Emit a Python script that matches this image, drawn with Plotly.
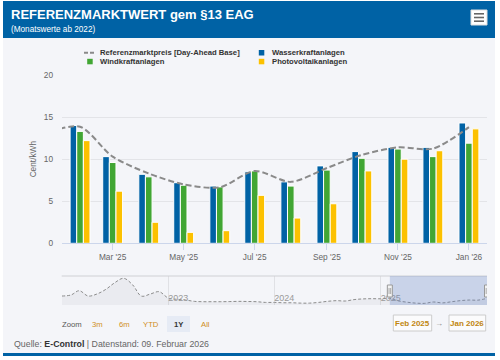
import plotly.graph_objects as go

# ---------------- data ----------------
bar_months = ["2025-02-01", "2025-03-01", "2025-04-01", "2025-05-01", "2025-06-01", "2025-07-01",
              "2025-08-01", "2025-09-01", "2025-10-01", "2025-11-01", "2025-12-01", "2026-01-01"]
wasserkraft = [14.0, 10.3, 8.2, 7.2, 6.8, 8.5, 7.3, 9.2, 10.9, 11.4, 11.4, 14.3]
windkraft = [13.3, 9.6, 7.9, 6.9, 6.7, 8.6, 6.8, 8.7, 10.1, 11.2, 10.3, 11.9]
photovoltaik = [12.2, 6.2, 2.5, 1.3, 1.5, 5.7, 3.0, 4.7, 8.6, 10.0, 11.0, 13.6]

ref_months = [f"{y}-{m:02d}-01" for y in (2022, 2023, 2024, 2025) for m in range(1, 13)] + ["2026-01-01"]
ref_price = [17.1, 18.6, 24.7, 17.1, 20.0, 26.7, 36.0, 42.4, 33.0, 17.0, 20.0, 23.3,
             14.3, 12.4, 11.5, 9.5, 9.0, 9.0, 9.0, 9.2, 9.5, 9.3, 9.0, 8.0,
             8.0, 7.5, 7.5, 7.0, 7.0, 8.0, 9.5, 10.5, 10.0, 12.0, 13.0, 13.3,
             13.2, 13.85, 10.3, 8.3, 7.0, 6.65, 8.6, 7.3, 8.95, 10.5, 11.4, 11.25,
             13.8]

x_tickvals = ["2025-03-01", "2025-05-01", "2025-07-01", "2025-09-01", "2025-11-01", "2026-01-01"]
x_ticktext = ["Mar '25", "May '25", "Jul '25", "Sep '25", "Nov '25", "Jan '26"]
y_tickvals = [0, 5, 10, 15, 20]
nav_tickvals = ["2023-01-01", "2024-01-01", "2025-01-01"]
nav_ticktext = ["2023", "2024", "2025"]

series_names = ["Referenzmarktpreis [Day-Ahead Base]", "Wasserkraftanlagen", "Windkraftanlagen", "Photovoltaikanlagen"]
range_buttons = ["3m", "6m", "YTD", "1Y", "All"]

# ---------------- style ----------------
FONT = "Liberation Sans, Arial, Helvetica, sans-serif"
BLUE = "#0062a5"
GREEN = "#41a634"
YELLOW = "#fcc100"
LINEGRAY = "#8a8a8a"
BG = "#f4f5f9"
ORANGE = "#d08e1c"

W, H = 500, 360
ML, MR, MT, MB = 62, 13, 75, 55
PW, PH = W - ML - MR, H - MT - MB


def px(x):
    return (x - ML) / PW


def py(y):
    return (H - MB - y) / PH


def rect(x0, y0, x1, y1, fill, line=None, lw=0, layer="above"):
    return dict(type="rect", xref="paper", yref="paper", x0=px(x0), x1=px(x1), y0=py(y0), y1=py(y1),
                fillcolor=fill, line=dict(color=line or fill, width=lw), layer=layer)


def hline(x0, x1, y, color, width=1, dash="solid"):
    return dict(type="line", xref="paper", yref="paper", x0=px(x0), x1=px(x1), y0=py(y), y1=py(y),
                line=dict(color=color, width=width, dash=dash))


def ann(text, x, y, size, color, xanchor="left", yanchor="middle"):
    dx = -2 if xanchor == "left" else 0
    return dict(text=text, x=px(x + dx), y=py(y), xref="paper", yref="paper", showarrow=False,
                xanchor=xanchor, yanchor=yanchor, font=dict(family=FONT, size=size, color=color))


fig = go.Figure()

# main chart traces
fig.add_trace(go.Bar(x=bar_months, y=wasserkraft, name=series_names[1], marker=dict(color=BLUE, line=dict(color="white", width=1)),
                     xaxis="x", yaxis="y", showlegend=False))
fig.add_trace(go.Bar(x=bar_months, y=windkraft, name=series_names[2], marker=dict(color=GREEN, line=dict(color="white", width=1)),
                     xaxis="x", yaxis="y", showlegend=False))
fig.add_trace(go.Bar(x=bar_months, y=photovoltaik, name=series_names[3], marker=dict(color=YELLOW, line=dict(color="white", width=1)),
                     xaxis="x", yaxis="y", showlegend=False))
fig.add_trace(go.Scatter(x=ref_months, y=ref_price, name=series_names[0], mode="lines",
                         line=dict(color=LINEGRAY, width=2, dash="6px,3px", shape="spline", smoothing=0.8),
                         xaxis="x", yaxis="y", showlegend=False))

# navigator
fig.add_trace(go.Scatter(x=ref_months, y=ref_price, mode="lines", fill="tozeroy",
                         fillcolor="rgba(80,90,110,0.06)",
                         line=dict(color="#8c8c8c", width=1, dash="3px,2px", shape="spline"),
                         xaxis="x2", yaxis="y2", showlegend=False, hoverinfo="skip"))

main_bottom = 243.3
fig.update_layout(
    width=W, height=H,
    margin=dict(l=ML, r=MR, t=MT, b=MB, autoexpand=False),
    paper_bgcolor="white", plot_bgcolor="rgba(0,0,0,0)",
    font=dict(family=FONT, size=8, color="#666"),
    barmode="group", bargap=0.39, bargroupgap=0,
    showlegend=False,
    xaxis=dict(type="date", domain=[0, 1], anchor="y", automargin=False,
               range=["2025-01-16 12:00", "2026-01-16 12:00"],
               tickvals=x_tickvals, ticktext=x_ticktext,
               ticks="outside", ticklen=6, tickcolor="#ccd6eb",
               showline=True, linecolor="#ccd6eb", linewidth=1,
               showgrid=False, tickfont=dict(size=8.3, color="#666")),
    yaxis=dict(domain=[py(main_bottom), 1], anchor="x", range=[0, 20], automargin=False,
               tickvals=y_tickvals, showgrid=True, gridcolor="#e3e4e8", gridwidth=1,
               zeroline=False, showline=False, ticks="", ticklabelstandoff=8,
               tickfont=dict(size=8.3, color="#666"),
               title=dict(text="Cent/kWh", font=dict(size=8.3, color="#666"), standoff=5)),
    xaxis2=dict(type="date", domain=[0, 1], anchor="y2", automargin=False,
                range=["2022-01-01", "2026-01-01"],
                tickvals=nav_tickvals, ticktext=nav_ticktext,
                ticklabelposition="inside right", ticks="", ticklabelstandoff=-4,
                showgrid=True, gridcolor="#e0e1e5", showline=False, zeroline=False,
                tickfont=dict(size=9, color="#9a9a9a")),
    yaxis2=dict(domain=[0, py(276)], anchor="x2", range=[4.3, 45.7], visible=False, automargin=False),
)

shapes = []
# chart body + header + footer line
shapes.append(rect(3, 38, 495, 356, BG, layer="below"))
shapes.append(rect(3, 1, 495, 38, BLUE))
shapes.append(rect(3, 353, 495, 356, BLUE))
# menu button
shapes.append(rect(471, 10, 487, 25, "white", "#dddddd", 1))
for yy in (13.8, 17.5, 21.2):
    shapes.append(hline(474, 484, yy, "#666666", 1.6))

# legend symbols
shapes.append(hline(84, 94, 52.7, LINEGRAY, 2, "4px,2px"))
shapes.append(rect(258.8, 50.0, 264.3, 55.5, BLUE))
shapes.append(rect(87.2, 58.8, 92.7, 64.3, GREEN))
shapes.append(rect(258.8, 58.8, 264.3, 64.3, YELLOW))

# navigator outline, mask and handles
shapes.append(hline(61.7, 487, 276, "#cfd0d4", 1))
shapes.append(dict(type="rect", xref="x2", yref="y2 domain", x0="2025-02-01", x1="2026-01-01", y0=0, y1=1,
                   fillcolor="rgba(102,133,194,0.3)", line=dict(width=0), layer="above"))
for hx in ("2025-02-01", "2026-01-01"):
    shapes.append(dict(type="rect", xref="x2", yref="paper", xsizemode="pixel", xanchor=hx,
                       x0=-2.5, x1=2.5, y0=py(297), y1=py(285),
                       fillcolor="#f2f2f2", line=dict(color="#999999", width=1)))
    for dxl in (-0.8, 0.8):
        shapes.append(dict(type="line", xref="x2", yref="paper", xsizemode="pixel", xanchor=hx,
                           x0=dxl, x1=dxl, y0=py(294), y1=py(288),
                           line=dict(color="#999999", width=0.8)))

# range selector highlight and input boxes
shapes.append(rect(167, 316, 190, 332, "#e6ebf5"))
shapes.append(rect(393.3, 315, 431.7, 331, "#fbfbfc", "#cccccc", 1))
shapes.append(rect(449, 315, 485.7, 331, "#fbfbfc", "#cccccc", 1))

annotations = [
    ann("<b>REFERENZMARKTWERT gem §13 EAG</b>", 11, 14.8, 13, "white"),
    ann("(Monatswerte ab 2022)", 11, 29.5, 8.2, "white"),
    ann("<b>" + series_names[0] + "</b>", 100, 52.7, 7.7, "#333333"),
    ann("<b>" + series_names[1] + "</b>", 271.7, 52.7, 7.7, "#333333"),
    ann("<b>" + series_names[2] + "</b>", 100, 61.5, 7.7, "#333333"),
    ann("<b>" + series_names[3] + "</b>", 271.7, 61.5, 7.7, "#333333"),
    ann("Zoom", 61.7, 324, 7.7, "#555555"),
    ann("→", 438.8, 323, 8, "#888888", xanchor="center"),
    ann("<b>Feb 2025</b>", 412.5, 323, 8, "#c0850f", xanchor="center"),
    ann("<b>Jan 2026</b>", 467.3, 323, 8, "#c0850f", xanchor="center"),
    ann("Quelle: <b style='color:#333'>E-Control</b> | Datenstand: 09. Februar 2026", 14, 344.3, 8.8, "#666666"),
]
btn_x = [97.2, 124.2, 151.2, 178.7, 205.0]
for label, bx in zip(range_buttons, btn_x):
    if label == "1Y":
        annotations.append(ann("<b>" + label + "</b>", bx, 324, 7.7, "#333333", xanchor="center"))
    else:
        annotations.append(ann(label, bx, 324, 7.7, ORANGE, xanchor="center"))

fig.update_layout(shapes=shapes, annotations=annotations)
fig.write_html("out.html", config={"displayModeBar": False},
               post_script="document.body.style.margin='0';document.body.style.padding='0';")
